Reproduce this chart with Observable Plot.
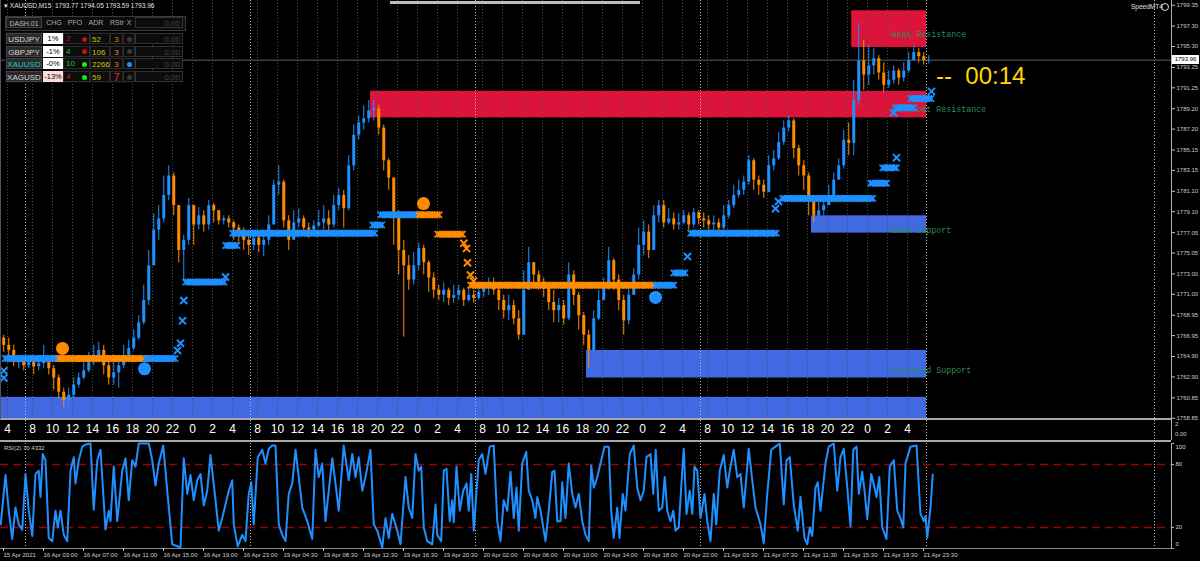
<!DOCTYPE html>
<html><head><meta charset="utf-8">
<script src="https://cdn.jsdelivr.net/npm/d3@7"></script>
<script src="https://cdn.jsdelivr.net/npm/@observablehq/plot@0.6"></script>
<style>
html,body{margin:0;padding:0;background:#000;}
#root{position:relative;width:1200px;height:561px;overflow:hidden;background:#000;font-family:"Liberation Sans",Arial,sans-serif;}
#root svg{display:block;position:absolute;left:0;}
</style></head><body><div id="root"></div>
<script>
// ---------- DATA ----------
// 30-minute candles (index k), XAUUSD
const firstOpen = 1766.7;
const closes = [
1766.0,1765.5,1764.3,1764.5,1764.0,1764.3,1763.9,1764.2,1764.5,1763.7,
1762.8,1761.4,1760.6,1761.1,1762.1,1762.8,1763.5,1764.3,1765.0,1765.5,
1764.0,1762.8,1763.3,1764.0,1765.0,1765.7,1766.7,1768.2,1770.4,1773.8,
1777.3,1778.4,1780.7,1782.6,1779.7,1775.3,1776.3,1779.7,1777.8,1778.7,
1777.8,1779.7,1779.2,1778.2,1778.4,1778.0,1777.5,1776.8,1776.3,1775.8,
1776.5,1775.8,1776.3,1777.8,1781.7,1782.0,1778.2,1776.3,1778.0,1778.4,
1777.5,1777.3,1777.7,1778.0,1778.4,1777.8,1779.7,1780.7,1779.4,1783.6,
1786.6,1787.8,1788.2,1789.0,1789.2,1787.3,1784.1,1782.4,1778.7,1775.3,
1773.8,1772.4,1773.8,1775.5,1774.1,1772.6,1771.4,1770.9,1771.4,1770.6,
1770.9,1771.4,1770.4,1770.9,1770.6,1771.2,1771.6,1771.9,1771.4,1770.4,
1769.4,1769.9,1768.6,1767.0,1771.4,1774.1,1772.9,1772.2,1771.6,1770.2,
1769.4,1769.9,1768.6,1772.9,1770.9,1768.9,1767.0,1765.5,1768.6,1770.4,
1771.9,1774.3,1772.4,1770.4,1768.4,1770.9,1772.9,1775.8,1777.1,1775.3,
1778.7,1779.7,1778.0,1778.4,1777.8,1778.0,1778.7,1777.8,1779.0,1778.4,
1778.2,1777.8,1778.0,1777.5,1778.7,1779.7,1780.7,1781.2,1782.0,1784.1,
1782.2,1781.7,1781.0,1783.6,1784.3,1785.9,1787.3,1788.0,1785.3,1783.6,
1782.6,1780.2,1778.7,1779.2,1779.7,1780.7,1782.2,1783.6,1786.1,1785.8,
1790.0,1793.9,1792.5,1793.4,1794.1,1792.7,1791.5,1792.0,1792.9,1792.2,
1792.9,1793.9,1794.7,1794.3,1793.9,1793.96];
const highs = [
1767.0,1766.7,1766.0,1765.0,1764.8,1764.8,1764.7,1764.8,1766.0,1764.7,
1764.0,1763.1,1761.8,1761.8,1762.8,1763.3,1764.3,1765.3,1766.0,1766.3,
1766.0,1764.5,1764.5,1765.0,1766.0,1766.5,1767.5,1768.9,1771.9,1775.3,
1778.9,1779.7,1782.6,1783.6,1782.9,1779.7,1776.8,1780.4,1779.7,1779.5,
1779.2,1780.2,1779.9,1779.2,1778.7,1778.7,1778.2,1777.8,1777.5,1776.8,
1777.1,1777.0,1777.1,1778.7,1782.2,1783.6,1782.2,1778.7,1779.2,1779.4,
1778.7,1778.0,1778.2,1779.2,1779.7,1779.2,1780.7,1781.4,1781.2,1784.6,
1787.6,1788.5,1789.5,1790.0,1790.0,1789.5,1787.6,1784.3,1782.4,1779.2,
1776.3,1774.8,1775.1,1776.0,1775.8,1774.3,1773.1,1771.9,1772.1,1771.6,
1771.9,1771.9,1771.6,1771.6,1771.4,1771.9,1772.1,1772.6,1772.6,1771.6,
1770.9,1770.9,1770.4,1769.4,1773.3,1775.6,1774.1,1773.3,1772.6,1771.9,
1771.4,1770.6,1770.4,1774.1,1773.3,1771.2,1769.2,1767.5,1769.4,1771.4,
1772.6,1775.6,1774.5,1772.9,1770.9,1771.9,1773.5,1777.5,1778.2,1777.8,
1779.7,1780.2,1780.2,1779.4,1779.0,1778.9,1779.2,1779.0,1779.4,1779.2,
1779.0,1778.7,1778.7,1778.4,1779.7,1780.2,1781.7,1782.2,1782.6,1784.6,
1784.3,1782.6,1782.2,1784.6,1785.1,1786.9,1788.0,1788.5,1788.2,1785.6,
1784.1,1782.9,1780.7,1780.0,1780.4,1781.7,1782.9,1784.3,1787.1,1787.8,
1792.0,1797.6,1795.9,1795.4,1795.1,1794.4,1793.7,1792.9,1793.4,1793.1,
1793.7,1794.7,1795.3,1795.1,1794.7,1794.4];
const lows = [
1765.3,1764.9,1763.9,1763.7,1763.5,1763.7,1763.1,1763.5,1763.7,1763.1,
1761.6,1760.8,1759.9,1759.9,1760.8,1761.8,1762.6,1763.3,1764.0,1764.5,
1763.1,1762.1,1762.1,1761.8,1763.7,1764.5,1765.5,1766.5,1768.0,1769.9,
1773.8,1776.3,1778.0,1780.2,1778.7,1774.1,1772.2,1775.8,1775.8,1777.3,
1777.1,1777.3,1778.0,1777.8,1777.8,1777.5,1776.3,1776.1,1775.3,1774.8,
1775.3,1775.1,1774.7,1775.8,1777.8,1780.7,1777.5,1775.3,1776.3,1777.5,
1777.1,1776.5,1777.1,1777.5,1777.3,1776.8,1777.5,1779.2,1777.5,1779.2,
1783.1,1786.1,1787.1,1787.8,1788.0,1786.6,1783.1,1781.2,1775.8,1772.9,
1766.8,1771.4,1771.9,1773.3,1772.9,1771.2,1770.6,1770.4,1770.2,1769.9,
1770.1,1770.4,1769.8,1770.2,1770.1,1770.4,1770.7,1770.9,1770.9,1769.4,
1768.6,1768.4,1768.0,1766.5,1767.0,1771.4,1771.9,1771.4,1770.7,1769.4,
1768.2,1768.2,1768.0,1768.4,1769.9,1767.5,1766.0,1763.8,1765.3,1768.4,
1770.4,1771.4,1771.4,1769.4,1767.0,1768.0,1770.9,1772.4,1774.8,1774.5,
1775.3,1778.0,1777.5,1777.8,1777.3,1777.3,1777.8,1777.3,1777.5,1777.8,
1777.5,1777.3,1777.1,1776.8,1777.3,1778.4,1779.4,1780.4,1780.7,1781.7,
1781.2,1780.7,1780.4,1781.0,1783.1,1784.1,1785.6,1786.9,1784.3,1782.6,
1781.2,1778.7,1778.0,1778.4,1778.7,1779.7,1780.6,1782.2,1783.3,1784.6,
1784.6,1789.5,1791.0,1791.5,1792.5,1792.0,1790.8,1791.2,1791.6,1791.5,
1791.8,1792.7,1793.9,1793.7,1793.5,1793.6];

// price axis tick labels
const priceTicks = [1799.35,1797.30,1795.30,1793.25,1791.25,1789.20,1787.20,1785.15,1783.15,1781.10,1779.10,1777.05,1775.05,1773.00,1771.00,1768.95,1766.95,1764.90,1762.90,1760.85,1758.85];

// supply/demand zones
const zoneNames = ["Weak Resistance","Turncoat Resistance","Weak Support","Untested Support",""];
const zoneKind = ["res","res","sup","sup","sup"];
const zoneK1 = [169.6, 73.35, 161.55, 116.55, -0.65];
const zoneK2 = [184.55, 184.55, 184.55, 184.55, 184.55];
const zoneTop = [1798.8, 1790.9, 1778.7, 1765.5, 1760.9];
const zoneBottom = [1795.2, 1788.3, 1777.0, 1762.8, 1758.63];
const zoneLabelPrice = [1796.5, 1789.1, 1777.3, 1763.5, null];
const zoneLabelK = 177.55;

// trailing-level bands (k from, k to, price, side)
const bandK1 = [0.3, 11, 28.4, 36.4, 44.4, 45.8, 73.8, 75.4, 83, 86.8, 93.4, 130.4, 134, 137.4, 155.8, 173.4, 175.8, 178.4, 181.4];
const bandK2 = [10.8, 28.4, 34.4, 44.4, 46.7, 74.4, 76, 83, 87.4, 92, 130.4, 134.4, 136.4, 154.8, 174, 176.8, 178.8, 182.4, 185.8];
const bandPrice = [1764.7, 1764.7, 1764.7, 1772.2, 1775.8, 1777.0, 1777.8, 1778.8, 1778.8, 1776.9, 1771.9, 1771.9, 1773.1, 1777.0, 1780.4, 1781.9, 1783.4, 1789.3, 1790.2];
const bandSide = ["buy","sell","buy","buy","buy","buy","buy","buy","sell","sell","sell","buy","buy","buy","buy","buy","buy","buy","buy"];

// isolated cross markers
const crossK = [0, 0, 34.75, 35.35, 35.75, 36.0, 44.35, 136.75, 154.35, 154.95, 178.55, 178.0, 185.55, 92.0, 92.55, 92.75, 93.35, 93.95];
const crossPrice = [1763.5, 1762.8, 1765.5, 1766.2, 1768.4, 1770.4, 1772.7, 1774.7, 1779.4, 1780.1, 1784.4, 1788.8, 1790.9, 1776.0, 1775.5, 1774.1, 1772.9, 1772.3];
const crossSide = ["buy","buy","buy","buy","buy","buy","buy","buy","buy","buy","buy","buy","buy","sell","sell","sell","sell","sell"];

// signal circles
const signalK = [11.75, 28.15, 83.95, 130.35];
const signalPrice = [1765.7, 1763.7, 1779.9, 1770.7];
const signalSide = ["sell","buy","sell","buy"];

// hour labels strip
const hourLabels = ["4","8","10","12","14","16","18","20","22","0","2","4",
 "8","10","12","14","16","18","20","22","0","2","4",
 "8","10","12","14","16","18","20","22","0","2","4",
 "8","10","12","14","16","18","20","22","0","2","4"];
const hourK = [0.75,5.75,9.75,13.75,17.75,21.75,25.75,29.75,33.75,37.75,41.75,45.75,
 50.75,54.75,58.75,62.75,66.75,70.75,74.75,78.75,82.75,86.75,90.75,
 95.75,99.75,103.75,107.75,111.75,115.75,119.75,123.75,127.75,131.75,135.75,
 140.75,144.75,148.75,152.75,156.75,160.75,164.75,168.75,172.75,176.75,180.75];
const daySepK = [4.35, 49.35, 94.35, 139.35, 184.55, 230.15];

// date axis
const dateLabels = ["15 Apr 2021","16 Apr 03:00","16 Apr 07:00","16 Apr 11:00","16 Apr 15:00","16 Apr 19:00","16 Apr 23:00","19 Apr 04:30","19 Apr 08:30","19 Apr 12:30","19 Apr 16:30","19 Apr 20:30","20 Apr 02:00","20 Apr 06:00","20 Apr 10:00","20 Apr 14:00","20 Apr 18:00","20 Apr 22:00","21 Apr 03:30","21 Apr 07:30","21 Apr 11:30","21 Apr 15:30","21 Apr 19:30","21 Apr 23:30"];
const dateK = [-0.25,7.75,15.75,23.75,31.75,39.75,47.75,55.75,63.75,71.75,79.75,87.75,95.75,103.75,111.75,119.75,127.75,135.75,143.75,151.75,159.75,167.75,175.75,183.75];

// RSI(2)
const rsiK = [
-0.6,0.35,1.0,1.7,2.35,3.0,3.7,4.35,5.0,5.7,
6.35,7.0,7.35,7.8,8.35,9.0,9.7,10.35,10.8,11.35,
12.0,12.7,13.35,14.0,14.35,15.0,15.7,16.35,17.35,18.0,
18.7,19.35,20.35,21.0,21.35,22.0,22.7,23.7,24.35,25.0,
25.7,26.35,27.0,29.0,29.7,30.35,31.0,31.9,32.7,33.7,
35.35,36.0,36.7,37.35,38.0,38.7,39.35,40.0,40.7,41.35,
42.35,43.0,43.7,44.35,45.0,45.7,46.0,46.8,47.7,48.35,
49.0,49.5,50.0,50.8,51.7,52.35,53.0,53.7,54.35,55.0,
55.7,56.35,57.0,57.7,58.35,59.0,59.7,60.7,61.7,62.35,
63.0,63.7,64.35,65.0,65.7,66.35,67.0,68.0,69.0,69.7,
70.35,71.0,71.7,72.35,73.35,74.0,74.7,75.7,76.35,77.0,
77.7,78.7,79.35,
80.35,81.0,81.7,82.35,83.0,83.5,84.0,84.7,85.7,86.35,
86.7,87.5,88.0,88.55,89.2,89.7,90.0,90.55,91.2,91.9,
92.55,93.0,93.5,94.0,95.0,95.7,96.35,97.2,98.0,98.7,
99.35,100.0,100.7,101.35,102.0,102.55,103.0,103.7,104.5,105.0,
105.7,106.35,106.7,107.35,108.35,109.0,109.7,110.15,110.7,111.35,
111.7,112.35,113.0,113.7,114.35,115.0,115.7,116.35,117.0,117.5,
118.0,118.7,119.35,120.15,121.0,121.5,122.0,122.7,123.15,123.8,
124.35,125.2,126.0,126.7,127.35,128.0,128.55,129.35,129.9,130.4,
131.0,131.7,132.2,132.7,133.35,133.9,134.35,135.0,135.7,136.0,
136.55,137.2,137.7,138.15,138.7,139.35,140.15,140.7,141.35,142.0,
142.5,143.2,144.0,144.7,145.2,146.0,146.7,147.35,148.0,149.0,
149.7,150.35,151.35,152.0,152.7,153.5,154.35,155.2,156.0,156.55,
157.2,158.0,158.8,
159.35,160.15,160.7,161.2,161.7,162.35,162.8,163.35,164.35,165.0,
166.0,166.7,167.35,168.0,168.7,169.35,169.9,170.55,171.0,171.7,
172.15,172.7,173.5,174.15,174.55,175.1,175.7,176.55,177.2,178.0,
178.7,179.35,179.9,180.35,181.35,182.55,183.35,184.0,184.35,184.7,
185.35,185.8];
const rsiV = [
23,70,36,9,39,23,18,71,36,12,
71,74,49,90,84,10,7,36,20,36,
13,7,74,87,62,84,97,99,100,37,
84,94,18,36,26,78,26,74,86,46,
84,78,100,100,84,60,81,98,55,4,
1,86,52,70,46,65,71,41,55,89,
46,17,29,42,55,65,23,2,13,7,
52,63,23,87,94,81,95,98,98,23,
13,7,52,62,94,68,39,26,9,94,
68,81,26,55,86,62,36,98,65,90,
68,87,55,68,94,23,17,1,29,10,
33,17,4,
68,39,29,90,74,78,20,7,4,42,
13,7,74,76,26,46,25,78,36,55,
62,36,71,17,84,90,71,97,98,26,
7,46,36,73,29,58,17,81,92,55,
46,29,49,36,7,36,73,74,26,26,
63,29,81,52,39,52,26,13,7,79,
58,68,81,97,97,36,10,39,10,52,
36,90,98,58,46,55,87,90,52,94,
36,39,68,36,26,36,17,20,74,95,
33,55,33,78,74,29,52,26,7,52,
23,74,89,58,74,94,68,71,39,95,
65,39,23,5,52,94,97,100,42,84,
87,42,17,
49,10,4,20,12,58,63,36,81,97,
100,55,87,95,58,21,94,97,52,73,
55,28,71,58,49,68,20,9,78,84,
36,29,20,81,97,98,33,26,31,10,
39,70.43];
const rsiLevels = [80, 20];
const rsiTicks = [100, 80, 20, 0];

// dashboard
const dashHeader = ["CHG","PFO","ADR","RStr","X"];
const dashSymbols = ["USDJPY","GBPJPY","XAUUSD","XAGUSD"];
const dashChg = ["1%","-1%","-0%","-13%"];
const dashPfo = ["2","4","10","4"];
const dashPfoDir = ["down","up","up","down"];
const dashDotDir = ["down","down","up","up"];
const dashAdr = ["52","106","2266","59"];
const dashRstr = ["3","3","3","7"];
const dashXOn = [false,false,true,false];
const dashVal = ["0.00","0.00","0.00","0.00"];

// ---------- BUILD ----------
const BULL = "#1E90FF", BEAR = "#FF8C00";
const sideColor = {buy: BULL, sell: BEAR};
const zoneFill = {res: "#DC143C", sup: "#4169E1"};
const xDomain = [-0.65, 233.55];
const yDomain = [1758.63, 1799.81];
const FONT = "'Liberation Sans', Arial, sans-serif";

const candles = closes.map((c, i) => ({k: i, o: i ? closes[i - 1] : firstOpen, h: highs[i], l: lows[i], c}));
const zones = zoneNames.map((name, i) => ({name, kind: zoneKind[i], k1: zoneK1[i], k2: zoneK2[i], top: zoneTop[i], bottom: zoneBottom[i], lp: zoneLabelPrice[i]}));
const bands = bandK1.map((k1, i) => ({k1, k2: bandK2[i], p: bandPrice[i], side: bandSide[i]}));
const bandDots = bands.flatMap(b => d3.range(b.k1, b.k2 + 0.01, 0.45).map(k => ({k, p: b.p, side: b.side})));
const crosses = crossK.map((k, i) => ({k, p: crossPrice[i], side: crossSide[i]}));
const signals = signalK.map((k, i) => ({k, p: signalPrice[i], side: signalSide[i]}));
const rsi = rsiK.map((k, i) => ({k, v: rsiV[i]}));
const dateMap = new Map(dateK.map((k, i) => [k, dateLabels[i]]));
const lastClose = closes[closes.length - 1];
const candleColor = d => d.c >= d.o ? BULL : BEAR;

const root = document.getElementById("root");
function addDiv(css, text) {
  const d = document.createElement("div");
  d.style.cssText = "position:absolute;" + css;
  if (text != null) d.textContent = text;
  root.appendChild(d);
  return d;
}

const main = Plot.plot({
  width: 1200, height: 420,
  marginTop: 0, marginBottom: 0, marginLeft: 0, marginRight: 29,
  style: {background: "transparent", color: "#c8c8c8", font: "6px " + FONT, overflow: "visible"},
  x: {domain: xDomain, axis: null, label: null},
  y: {domain: yDomain, axis: null, label: null},
  marks: [
    Plot.rect(zones, {x1: "k1", x2: "k2", y1: "bottom", y2: "top", fill: d => zoneFill[d.kind]}),
    Plot.ruleX(hourK, {stroke: "#4a4a4a", strokeDasharray: "1,2"}),
    Plot.ruleX(daySepK, {stroke: "#bdbdbd", strokeDasharray: "1,2"}),
    Plot.ruleY([lastClose], {stroke: "#5f5f5f"}),
    Plot.text(zones.filter(z => z.name), {x: () => zoneLabelK, y: "lp", text: "name", textAnchor: "start", fill: "#2e8b57", fontSize: 8.3, fontFamily: "'Liberation Mono', 'DejaVu Sans Mono', monospace"}),
    Plot.ruleX(candles, {x: "k", y1: "l", y2: "h", stroke: candleColor, strokeWidth: 1}),
    Plot.ruleX(candles, {x: "k", y1: "o", y2: "c", stroke: candleColor, strokeWidth: 3}),
    Plot.ruleY(bands, {y: "p", x1: "k1", x2: "k2", stroke: d => sideColor[d.side], strokeWidth: 4}),
    Plot.dot(bandDots, {x: "k", y: "p", symbol: "times", r: 3, stroke: d => sideColor[d.side], strokeWidth: 1.6}),
    Plot.dot(crosses, {x: "k", y: "p", symbol: "times", r: 3.3, stroke: d => sideColor[d.side], strokeWidth: 2}),
    Plot.dot(signals, {x: "k", y: "p", r: 6.5, fill: d => sideColor[d.side], stroke: null}),
    Plot.axisY(priceTicks, {anchor: "right", label: null, tickSize: 3, tickPadding: 2, fontSize: 6, tickFormat: d => d.toFixed(2)}),
    Plot.ruleX([xDomain[1]], {stroke: "#b0b0b0"})
  ]
});
main.style.top = "0px";
root.appendChild(main);

const strip = Plot.plot({
  width: 1200, height: 20,
  marginTop: 0, marginBottom: 0, marginLeft: 0, marginRight: 29,
  style: {background: "transparent", color: "#fff", font: "12px " + FONT, overflow: "visible"},
  x: {domain: xDomain, axis: null, label: null},
  y: {domain: [0, 1], axis: null, label: null},
  marks: [
    Plot.ruleX(daySepK, {stroke: "#bdbdbd", strokeDasharray: "1,2"}),
    Plot.text(hourLabels, {x: (d, i) => hourK[i], frameAnchor: "middle", dy: -1, fill: "#ffffff", fontSize: 12}),
    Plot.ruleX([xDomain[1]], {stroke: "#b0b0b0"})
  ]
});
strip.style.top = "420px";
root.appendChild(strip);

const rsiPlot = Plot.plot({
  width: 1200, height: 120,
  marginTop: 2, marginBottom: 13, marginLeft: 0, marginRight: 29,
  style: {background: "transparent", color: "#d0d0d0", font: "6px " + FONT, overflow: "visible"},
  x: {domain: xDomain, axis: null, label: null},
  y: {domain: [0, 100], axis: null, label: null},
  marks: [
    Plot.ruleX(daySepK, {stroke: "#bdbdbd", strokeDasharray: "1,2"}),
    Plot.ruleY(rsiLevels, {stroke: "#a00000", strokeDasharray: "8,5", strokeWidth: 1.3}),
    Plot.line(rsi, {x: "k", y: "v", stroke: BULL, strokeWidth: 2}),
    Plot.ruleY([0], {stroke: "#8a8a8a"}),
    Plot.axisX(dateK, {anchor: "bottom", label: null, tickSize: 3, tickPadding: 1, fontSize: 6, textAnchor: "start", dx: 1, tickFormat: d => dateMap.get(d)}),
    Plot.ruleY(rsiTicks, {x1: xDomain[1], x2: xDomain[1] + 0.6, stroke: "#b0b0b0"}),
    Plot.text(rsiLevels, {x: () => xDomain[1], y: d => d, dx: 4, textAnchor: "start", fontSize: 6, text: d => String(d)}),
    Plot.text([100], {x: () => xDomain[1], y: d => d, dx: 4, dy: 4, textAnchor: "start", fontSize: 6, text: d => String(d)}),
    Plot.text([0], {x: () => xDomain[1], y: d => d, dx: 4, dy: -4, textAnchor: "start", fontSize: 6, text: d => String(d)}),
    Plot.ruleX([xDomain[1]], {y1: 0, y2: 100, stroke: "#b0b0b0"})
  ]
});
rsiPlot.style.top = "441px";
root.appendChild(rsiPlot);

// panel separators
addDiv("left:0;top:418px;width:1171px;height:2px;background:#a8a8a8;");
addDiv("left:0;top:440px;width:1171px;height:2px;background:#a8a8a8;");
addDiv("left:0;top:0;width:1px;height:419px;background:#555;");
addDiv("left:390px;top:1px;width:250px;height:3px;background:#bcbcbc;");

// current price label
const yLast = main.scale("y").apply(lastClose);
addDiv(`left:1172px;top:${yLast - 4.5}px;width:27px;height:9px;background:#fff;color:#000;font:6px ${FONT};line-height:9px;text-align:center;`, lastClose.toFixed(2));

// strip right labels
addDiv(`left:1175px;top:421px;color:#ccc;font:6px ${FONT};`, "2");
addDiv(`left:1175px;top:431px;color:#ccc;font:6px ${FONT};`, "0.00");

// header texts
addDiv(`left:4px;top:2px;color:#e0e0e0;font:6.5px ${FONT};white-space:pre;`, "\u25BE XAUUSD,M15  1793.77 1794.05 1793.59 1793.96");
addDiv(`left:1131px;top:3px;color:#e0e0e0;font:6.5px ${FONT};`, "SpeedMT4");
addDiv("left:1161px;top:3px;width:6px;height:6px;border:1px solid #ddd;border-radius:50%;");
addDiv(`left:4px;top:445px;color:#cfcfcf;font:6px ${FONT};`, "RSI(2) 70.4332");

// countdown
addDiv(`left:936px;top:62px;color:#FFD700;font:300 24px ${FONT};white-space:pre;`, "--  00:14");

// dashboard
const cellBase = `box-sizing:border-box;font:8px ${FONT};line-height:11px;`;
addDiv(`left:5px;top:16px;width:179px;height:13px;border:1px solid #3a3a3a;background:#0c0c0c;`);
addDiv(`left:6px;top:17px;width:36px;height:11px;${cellBase}border:1px solid #444;background:#1c1c1c;color:#bbb;text-align:center;font-size:7px;`, "DASH.01");
const headX = [54, 75, 96, 117, 129];
dashHeader.forEach((h, i) => addDiv(`left:${headX[i] - 12}px;top:17px;width:24px;height:11px;${cellBase}color:#aaa;text-align:center;font-size:7px;`, h));
addDiv(`left:135px;top:17px;width:48px;height:11px;${cellBase}border:1px solid #333;color:#444;text-align:right;padding-right:2px;`, "0.00");
dashSymbols.forEach((s, i) => {
  const t = 33 + i * 12.7;
  addDiv(`left:5px;top:${t - 1}px;width:130px;height:12.5px;background:#0c0c0c;`);
  addDiv(`left:6px;top:${t}px;width:36px;height:11px;${cellBase}background:#2a2a2a;border:1px solid #444;color:${s === "XAUUSD" ? "#22c8d8" : "#d8d8d8"};text-align:center;`, s);
  addDiv(`left:43px;top:${t}px;width:20px;height:11px;${cellBase}background:${dashChg[i] === "-13%" ? "#ffdcdc" : "#ffffff"};color:#000;text-align:center;font-size:7.5px;`, dashChg[i]);
  addDiv(`left:63px;top:${t}px;width:27px;height:11px;${cellBase}border:1px solid #2a2a2a;`);
  addDiv(`left:66px;top:${t}px;${cellBase}color:${dashPfoDir[i] === "up" ? "#22cc22" : "#dd1111"};`, dashPfo[i]);
  addDiv(`left:82px;top:${t + 3.5}px;width:5px;height:5px;border-radius:50%;background:${dashDotDir[i] === "up" ? "#11ee11" : "#c41010"};`);
  addDiv(`left:90px;top:${t}px;width:20px;height:11px;${cellBase}border:1px solid #2a2a2a;color:#d4c400;padding-left:1px;`, dashAdr[i]);
  addDiv(`left:110px;top:${t}px;width:13px;height:11px;${cellBase}border:1px solid #2a2a2a;color:${dashRstr[i] === "7" ? "#ff2222" : "#e08a00"};text-align:center;${dashRstr[i] === "7" ? "font-size:11px;" : ""}`, dashRstr[i]);
  addDiv(`left:123px;top:${t}px;width:12px;height:11px;${cellBase}border:1px solid #2a2a2a;`);
  addDiv(`left:127px;top:${t + 3.5}px;width:5px;height:5px;border-radius:50%;background:${dashXOn[i] ? "#1E90FF" : "#3a3a3a"};`);
  addDiv(`left:135px;top:${t}px;width:48px;height:11px;${cellBase}border:1px solid #333;background:#0c0c0c;color:#444;text-align:right;padding-right:2px;`, dashVal[i]);
});
</script></body></html>
